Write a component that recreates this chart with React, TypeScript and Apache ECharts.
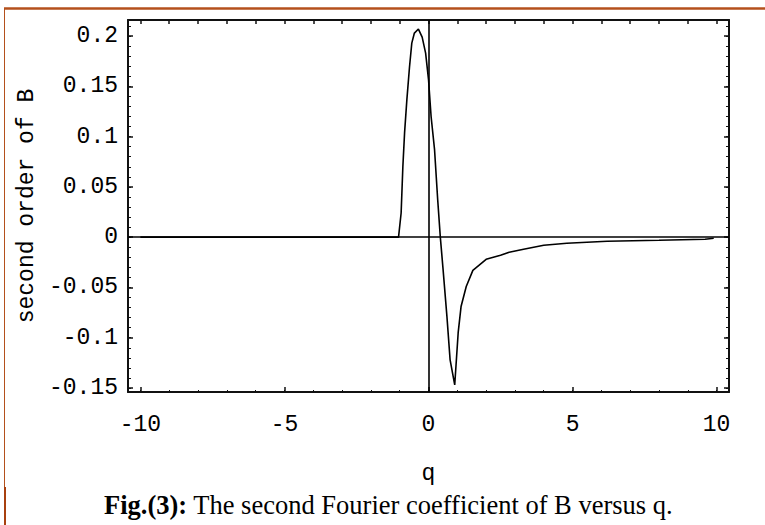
import React, { useEffect, useRef } from "react";
import * as echarts from "echarts";

// ---- data ----
const qValues = [
  -10, -1.1, -1.04, -0.95, -0.89, -0.83, -0.75, -0.66, -0.58, -0.49, -0.35,
  -0.22, -0.1, 0, 0.09, 0.21, 0.32, 0.41, 0.5, 0.64, 0.75, 0.91, 1.03, 1.13,
  1.31, 1.54, 2.0, 2.5, 2.8, 3.3, 4.0, 4.8, 6.2, 8.0, 9.6, 9.9,
];
const bValues = [
  0, 0, 0, 0.024, 0.07, 0.104, 0.137, 0.169, 0.193, 0.203, 0.207, 0.199, 0.183,
  0.157, 0.12, 0.087, 0.037, 0, -0.03, -0.079, -0.122, -0.147, -0.095, -0.069,
  -0.049, -0.033, -0.022, -0.018, -0.015, -0.012, -0.008, -0.006, -0.004,
  -0.003, -0.002, -0.001,
];
const xMajorTicks = [-10, -5, 0, 5, 10];
const yMajorTicks = [-0.15, -0.1, -0.05, 0, 0.05, 0.1, 0.15, 0.2];
const yTickLabels = ["-0.15", "-0.1", "-0.05", "0", "0.05", "0.1", "0.15", "0.2"];
const xTickLabels = ["-10", "-5", "0", "5", "10"];
const axisCrossings = { x: 0, y: 0 };
const xTitle = "q";
const yTitle = "second order of B";
const captionBold = "Fig.(3):";
const captionText = " The second Fourier coefficient of B versus q.";

const X_MIN = -10.43;
const X_MAX = 10.43;
const Y_MIN = -0.154;
const Y_MAX = 0.216;

const xMinorTicks: number[] = [];
for (let i = -10; i <= 10; i++) xMinorTicks.push(i);
const yMinorTicks: number[] = [];
for (let i = -15; i <= 21; i++) yMinorTicks.push(Math.round(i) / 100);

const MONO = "'Liberation Mono', 'DejaVu Sans Mono', monospace";
const SERIF = "'Liberation Serif', 'Times New Roman', serif";

export default function App() {
  const ref = useRef<HTMLDivElement>(null);
  useEffect(() => {
    if (!ref.current) return;
    const chart = echarts.init(ref.current, undefined, { renderer: "svg" });
    const frameLine = { show: true, lineStyle: { color: "#111", width: 2 } };
    const baseX = {
      type: "value" as const,
      min: X_MIN,
      max: X_MAX,
      splitLine: { show: false },
    };
    const baseY = {
      type: "value" as const,
      min: Y_MIN,
      max: Y_MAX,
      splitLine: { show: false },
    };
    const data = qValues.map((q, i) => [q, bValues[i]]);
    chart.setOption({
      animation: false,
      backgroundColor: "#fff",
      grid: { left: 128, top: 20, width: 601, height: 372, containLabel: false },
      xAxis: [
        {
          ...baseX,
          position: "bottom",
          axisLine: { ...frameLine, onZero: false },
          axisTick: {
            show: true,
            inside: true,
            length: 5,
            customValues: xMajorTicks,
            lineStyle: { color: "#111", width: 1.5 },
          },
          axisLabel: {
            show: true,
            customValues: xMajorTicks,
            formatter: (v: number) => xTickLabels[xMajorTicks.indexOf(v)] ?? String(v),
            margin: 21,
            color: "#000",
            fontFamily: MONO,
            fontSize: 23,
          },
          name: xTitle,
          nameLocation: "middle",
          nameGap: 70,
          nameTextStyle: { color: "#000", fontFamily: MONO, fontSize: 23, lineHeight: 23 },
        },
        {
          ...baseX,
          position: "bottom",
          axisLine: { show: false, onZero: false },
          axisTick: {
            show: true,
            inside: true,
            length: 2,
            customValues: xMinorTicks,
            lineStyle: { color: "#111", width: 1 },
          },
          axisLabel: { show: false },
        },
        {
          ...baseX,
          position: "top",
          axisLine: { ...frameLine, onZero: false },
          axisTick: {
            show: true,
            inside: true,
            length: 4,
            customValues: xMinorTicks,
            lineStyle: { color: "#111", width: 1.5 },
          },
          axisLabel: { show: false },
        },
      ],
      yAxis: [
        {
          ...baseY,
          position: "left",
          axisLine: { ...frameLine, onZero: false },
          axisTick: {
            show: true,
            inside: true,
            length: 5,
            customValues: yMajorTicks,
            lineStyle: { color: "#111", width: 1.5 },
          },
          axisLabel: {
            show: true,
            customValues: yMajorTicks,
            formatter: (v: number) => {
              const idx = yMajorTicks.findIndex((t) => Math.abs(t - v) < 1e-9);
              return idx >= 0 ? yTickLabels[idx] : String(v);
            },
            margin: 10,
            color: "#000",
            fontFamily: MONO,
            fontSize: 23,
          },
          name: yTitle,
          nameLocation: "middle",
          nameRotate: 90,
          nameGap: 84,
          nameTextStyle: { color: "#000", fontFamily: MONO, fontSize: 23 },
        },
        {
          ...baseY,
          position: "left",
          axisLine: { show: false, onZero: false },
          axisTick: {
            show: true,
            inside: true,
            length: 3,
            customValues: yMinorTicks,
            lineStyle: { color: "#111", width: 1 },
          },
          axisLabel: { show: false },
        },
        {
          ...baseY,
          position: "right",
          axisLine: { ...frameLine, onZero: false },
          axisTick: {
            show: true,
            inside: true,
            length: 5,
            customValues: yMajorTicks,
            lineStyle: { color: "#111", width: 1.5 },
          },
          axisLabel: { show: false },
        },
        {
          ...baseY,
          position: "right",
          axisLine: { show: false, onZero: false },
          axisTick: {
            show: true,
            inside: true,
            length: 3,
            customValues: yMinorTicks,
            lineStyle: { color: "#111", width: 1 },
          },
          axisLabel: { show: false },
        },
      ],
      series: [
        {
          type: "line",
          xAxisIndex: 0,
          yAxisIndex: 0,
          data,
          showSymbol: false,
          smooth: false,
          lineStyle: { color: "#000", width: 1.6 },
          markLine: {
            silent: true,
            symbol: ["none", "none"],
            label: { show: false },
            lineStyle: { color: "#000", width: 1.6, type: "solid" },
            data: [{ xAxis: axisCrossings.x }, { yAxis: axisCrossings.y }],
          },
        },
      ],
      graphic: [
        {
          type: "line",
          shape: { x1: 4, y1: 8.5, x2: 765, y2: 8.5 },
          style: { stroke: "#b4501c", lineWidth: 2.5 },
        },
        {
          type: "line",
          shape: { x1: 4.5, y1: 8, x2: 4.5, y2: 525 },
          style: { stroke: "#b4501c", lineWidth: 1 },
        },
        {
          type: "line",
          shape: { x1: 5, y1: 487, x2: 5, y2: 525 },
          style: { stroke: "#a8400f", lineWidth: 2 },
        },
        {
          type: "text",
          x: 104,
          y: 491,
          style: {
            text: `{b|${captionBold}}{n|${captionText}}`,
            textAlign: "left",
            textVerticalAlign: "top",
            rich: {
              b: { fontFamily: SERIF, fontWeight: "bold", fontSize: 26.5, lineHeight: 27, fill: "#000" },
              n: { fontFamily: SERIF, fontSize: 26.5, lineHeight: 27, fill: "#000" },
            },
          },
        },
      ],
    });
    return () => chart.dispose();
  }, []);
  return (
    <div
      ref={ref}
      style={{ position: "absolute", left: 0, top: 0, width: 765, height: 525, background: "#fff" }}
    />
  );
}
